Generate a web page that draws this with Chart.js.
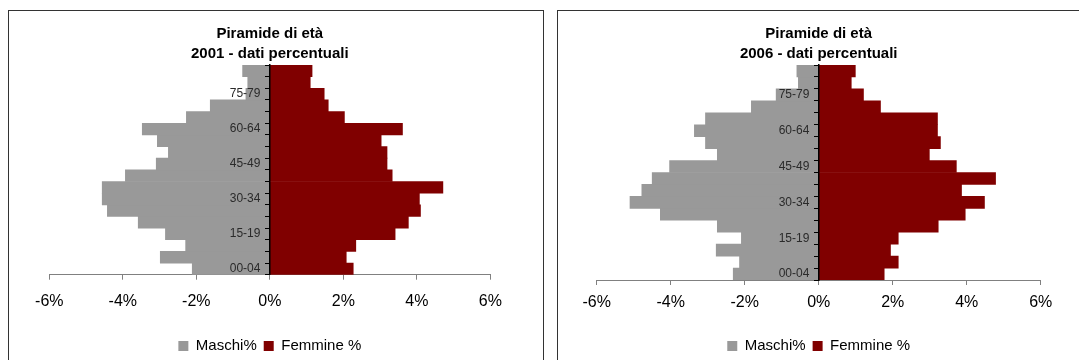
<!DOCTYPE html>
<html lang="it">
<head>
<meta charset="utf-8">
<title>Piramide di età 2001 / 2006</title>
<script src="https://cdn.jsdelivr.net/npm/chart.js@4/dist/chart.umd.min.js"></script>
<style>
  html, body { margin:0; padding:0; background:#ffffff; }
  body { width:1079px; height:360px; overflow:hidden; position:relative; }
  .panel { position:absolute; top:10px; width:534px; height:370px;
           border:1px solid #333333; background:#ffffff; }
  .panel canvas { display:block; }
</style>
</head>
<body>
<div class="panel" style="left:8px;"><canvas id="chart2001" width="534" height="360"></canvas></div>
<div class="panel" style="left:557px;"><canvas id="chart2006" width="534" height="360"></canvas></div>

<script>
// classi d'età, dal basso (00-04) verso l'alto
const AGE_CLASSES = ['00-04', '05-09', '10-14', '15-19', '20-24', '25-29', '30-34', '35-39', '40-44',
                     '45-49', '50-54', '55-59', '60-64', '65-69', '70-74', '75-79', '80-84', '85+'];

// valori percentuali (maschi positivi, resi negativi al disegno)
const MASCHI_2001  = [2.11, 2.98, 2.29, 2.84, 3.58, 4.42, 4.56, 4.56, 3.93, 3.09, 2.76, 3.06, 3.47, 2.27, 1.62, 0.65, 0.60, 0.74];
const FEMMINE_2001 = [2.27, 2.08, 2.34, 3.41, 3.77, 4.10, 4.07, 4.71, 3.33, 3.19, 3.19, 3.03, 3.61, 2.03, 1.59, 1.48, 1.10, 1.15];
const MASCHI_2006  = [2.31, 2.14, 2.77, 2.09, 2.74, 4.28, 5.10, 4.78, 4.50, 4.03, 2.74, 3.06, 3.36, 3.06, 1.82, 1.15, 0.55, 0.59];
const FEMMINE_2006 = [1.77, 2.15, 1.94, 2.15, 3.23, 3.96, 4.48, 3.86, 4.78, 3.72, 2.99, 3.29, 3.21, 3.21, 1.67, 1.21, 0.88, 0.99];

const X_MIN = -6, X_MAX = 6, X_STEP = 2;
const LABEL_EVERY = 3;

const COLOURS = { maschi: '#999999', femmine: '#800000' };
const FONT = "'Liberation Sans', Arial, sans-serif";

Chart.defaults.font.family = FONT;
Chart.defaults.color = '#000000';

// l'asse y sta sullo 0 : chart.js allinea le etichette a destra proprio sulla linea,
// quindi si aggiunge un piccolo spazio in coda per staccarle come in Excel
const LABEL_GAP = '\u2002 ';

function makePyramid(canvasId, year, maschi, femmine, geo) {
  return new Chart(document.getElementById(canvasId), {
    type: 'bar',
    data: {
      labels: AGE_CLASSES,
      datasets: [
        { label: 'Maschi%', data: maschi.map(v => -v), backgroundColor: COLOURS.maschi, borderWidth: 0 },
        { label: 'Femmine %', data: femmine, backgroundColor: COLOURS.femmine, borderWidth: 0 },
      ],
    },
    options: {
      indexAxis: 'y',
      responsive: false,
      animation: false,
      categoryPercentage: 1.0,
      barPercentage: 1.0,
      layout: { padding: { left: geo.left, right: geo.right, top: 0, bottom: 7.5 } },
      plugins: {
        title: {
          display: true,
          text: ['Piramide di età', year + ' - dati percentuali'],
          font: { size: 15, weight: 'bold', lineHeight: '20px' },
          color: '#000000',
          padding: { top: 13, bottom: 1 },
        },
        legend: {
          position: 'bottom',
          labels: { font: { size: 15 }, boxWidth: 10, boxHeight: 10, padding: 7, color: '#000000' },
        },
        tooltip: { enabled: false },
      },
      scales: {
        x: {
          stacked: true,
          min: X_MIN,
          max: X_MAX,
          position: 'bottom',
          afterFit: (scale) => { scale.height = geo.axisHeight; },
          grid: { drawOnChartArea: false, drawTicks: true, tickLength: 5, color: '#808080' },
          border: { display: true, color: '#808080', width: 1 },
          ticks: {
            stepSize: X_STEP,
            padding: geo.tickPad,
            font: { size: 16 },
            color: '#000000',
            callback: (v) => v + '%',
          },
        },
        y: {
          stacked: true,
          reverse: true,
          position: { x: 0 },
          grid: { drawOnChartArea: false, drawTicks: true, tickLength: 4, color: '#000000', z: 1 },
          border: { display: true, color: '#000000', width: 1.5, z: 1 },
          ticks: {
            z: 1,
            autoSkip: false,
            font: { size: 12 },
            color: '#2a2a2a',
            callback: (v, i) => (i % LABEL_EVERY === 0 ? AGE_CLASSES[i] + LABEL_GAP : ''),
          },
        },
      },
    },
  });
}

makePyramid('chart2001', 2001, MASCHI_2001, FEMMINE_2001,
            { left: 40.3, right: 52.7, axisHeight: 56.8, tickPad: 12 });
makePyramid('chart2006', 2006, MASCHI_2006, FEMMINE_2006,
            { left: 38.7, right: 51.3, axisHeight: 51.5, tickPad: 8 });
</script>
</body>
</html>
